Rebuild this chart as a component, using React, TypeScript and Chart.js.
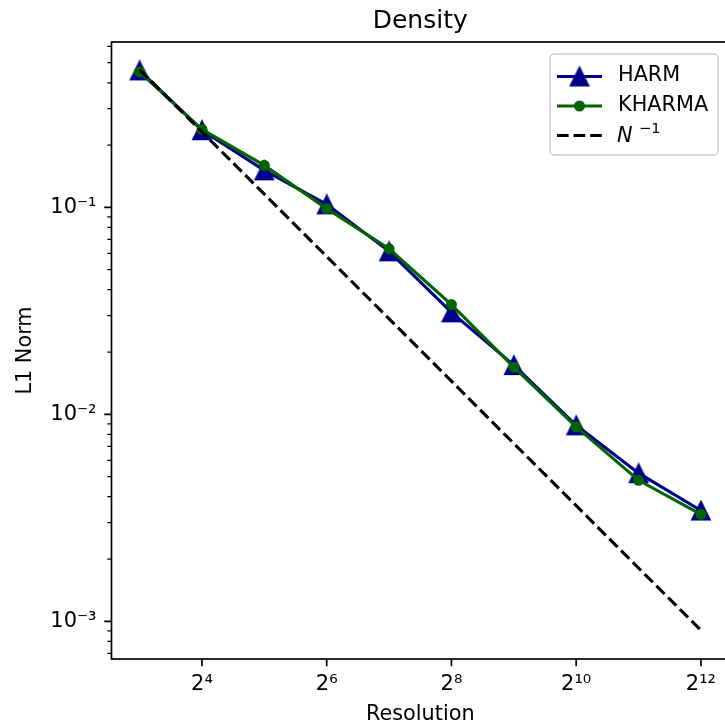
import React, { useEffect, useRef } from "react";
import { Chart, registerables } from "chart.js";

Chart.register(...registerables);

// ---------------- data ----------------
const resolutions = [8, 16, 32, 64, 128, 256, 512, 1024, 2048, 4096];
const harm = [0.459, 0.236, 0.151, 0.1034, 0.0613, 0.0311, 0.0173, 0.00885, 0.0052, 0.00343];
const kharma = [0.452, 0.238, 0.1596, 0.0986, 0.0631, 0.0339, 0.0169, 0.0087, 0.0048, 0.00329];
const nInverse = [0.463, 0.2315, 0.1158, 0.0579, 0.02894, 0.01447, 0.00723, 0.00362, 0.00181, 0.000905];

const xTickValues = [16, 64, 256, 1024, 4096];
const xTickLabels = ["2⁴", "2⁶", "2⁸", "2¹⁰", "2¹²"];
const yTickValues = [0.001, 0.01, 0.1];
const yTickLabels = ["10⁻³", "10⁻²", "10⁻¹"];
const yMinorValues = [
  0.0007, 0.0008, 0.0009,
  0.002, 0.003, 0.004, 0.005, 0.006, 0.007, 0.008, 0.009,
  0.02, 0.03, 0.04, 0.05, 0.06, 0.07, 0.08, 0.09,
  0.2, 0.3, 0.4, 0.5, 0.6,
];
const xLimits = [5.856, 5595];
const yLimits = [0.0006577, 0.6295];

const titleText = "Density";
const xTitle = "Resolution";
const yTitle = "L1 Norm";
const seriesNames = ["HARM", "KHARMA"];

// ---------------- styles ----------------
const FONT = '"DejaVu Sans"';
const HARM_COLOR = "#00008b";
const KHARMA_COLOR = "#006400";
const LW = 3.1;
const DASH = [11.6, 5];

function makeTriangle(color: string): HTMLCanvasElement {
  const c = document.createElement("canvas");
  c.width = 22;
  c.height = 22;
  const g = c.getContext("2d")!;
  g.fillStyle = color;
  g.strokeStyle = color;
  g.lineWidth = 1.5;
  g.lineJoin = "miter";
  g.beginPath();
  g.moveTo(11, 1.8);
  g.lineTo(1.8, 20.2);
  g.lineTo(20.2, 20.2);
  g.closePath();
  g.fill();
  g.stroke();
  return c;
}

export default function App() {
  const ref = useRef<HTMLCanvasElement | null>(null);

  useEffect(() => {
    if (!ref.current) return;
    document.body.style.margin = "0";
    const tri = makeTriangle(HARM_COLOR);

    const framePlugin = {
      id: "frameTicks",
      afterDatasetsDraw(chart: any) {
        const { ctx, chartArea: a, scales } = chart;
        ctx.save();
        ctx.strokeStyle = "#000";
        ctx.lineWidth = 1.67;
        ctx.strokeRect(a.left, a.top, a.right - a.left, a.bottom - a.top);
        ctx.beginPath();
        yTickValues.forEach((v) => {
          const p = scales.y.getPixelForValue(v);
          ctx.moveTo(a.left, p);
          ctx.lineTo(a.left - 7.3, p);
        });
        xTickValues.forEach((v) => {
          const p = scales.x.getPixelForValue(v);
          ctx.moveTo(p, a.bottom);
          ctx.lineTo(p, a.bottom + 7.3);
        });
        ctx.stroke();
        ctx.lineWidth = 1.25;
        ctx.beginPath();
        yMinorValues.forEach((v) => {
          const p = scales.y.getPixelForValue(v);
          ctx.moveTo(a.left, p);
          ctx.lineTo(a.left - 4.2, p);
        });
        ctx.stroke();
        ctx.restore();
      },
      afterDraw(chart: any) {
        const { ctx, chartArea: a } = chart;
        ctx.save();
        ctx.fillStyle = "#000";
        ctx.font = `25px ${FONT}`;
        ctx.textAlign = "center";
        ctx.textBaseline = "alphabetic";
        ctx.fillText(titleText, (a.left + a.right) / 2, 28.3);

        const bx = 550, by = 54, bw = 168, bh = 101;
        ctx.beginPath();
        (ctx as any).roundRect(bx, by, bw, bh, 4);
        ctx.fillStyle = "rgba(255,255,255,0.8)";
        ctx.fill();
        ctx.strokeStyle = "#cccccc";
        ctx.lineWidth = 1.5;
        ctx.stroke();

        const hx0 = 557, hx1 = 602, hxm = 579.5;
        const rows = [76.5, 106, 135.5];
        ctx.setLineDash([]);
        ctx.lineWidth = LW;
        ctx.strokeStyle = HARM_COLOR;
        ctx.beginPath();
        ctx.moveTo(hx0, rows[0]);
        ctx.lineTo(hx1, rows[0]);
        ctx.stroke();
        ctx.drawImage(tri, hxm - 11, rows[0] - 11);
        ctx.strokeStyle = KHARMA_COLOR;
        ctx.beginPath();
        ctx.moveTo(hx0, rows[1]);
        ctx.lineTo(hx1, rows[1]);
        ctx.stroke();
        ctx.fillStyle = KHARMA_COLOR;
        ctx.beginPath();
        ctx.arc(hxm, rows[1], 5.5, 0, Math.PI * 2);
        ctx.fill();
        ctx.strokeStyle = "#000";
        ctx.lineCap = "butt";
        ctx.setLineDash(DASH);
        ctx.beginPath();
        ctx.moveTo(hx0, rows[2]);
        ctx.lineTo(hx1, rows[2]);
        ctx.stroke();
        ctx.setLineDash([]);

        ctx.fillStyle = "#000";
        ctx.textAlign = "left";
        ctx.font = `20.8px ${FONT}`;
        ctx.fillText(seriesNames[0], 618, 80.5);
        ctx.fillText(seriesNames[1], 618, 110.5);
        ctx.font = `italic 20.8px ${FONT}`;
        ctx.fillText("N", 617, 142);
        ctx.font = `14.6px ${FONT}`;
        ctx.fillText("−1", 639, 132.5);
        ctx.restore();
      },
    };

    const chart = new Chart(ref.current, {
      type: "line",
      data: {
        datasets: [
          {
            label: seriesNames[0],
            data: resolutions.map((x, i) => ({ x, y: harm[i] })),
            borderColor: HARM_COLOR,
            backgroundColor: HARM_COLOR,
            borderWidth: LW,
            pointStyle: tri as any,
            pointRadius: 10,
            tension: 0,
            fill: false,
            order: 3,
          },
          {
            label: seriesNames[1],
            data: resolutions.map((x, i) => ({ x, y: kharma[i] })),
            borderColor: KHARMA_COLOR,
            backgroundColor: KHARMA_COLOR,
            pointBackgroundColor: KHARMA_COLOR,
            pointBorderColor: KHARMA_COLOR,
            borderWidth: LW,
            pointStyle: "circle",
            pointRadius: 5.5,
            pointBorderWidth: 0,
            tension: 0,
            fill: false,
            order: 2,
          },
          {
            label: "N^-1",
            data: resolutions.map((x, i) => ({ x, y: nInverse[i] })),
            borderColor: "#000",
            borderWidth: LW,
            borderDash: DASH,
            borderCapStyle: "butt",
            pointRadius: 0,
            tension: 0,
            fill: false,
            order: 1,
          },
        ],
      },
      options: {
        responsive: false,
        animation: false,
        devicePixelRatio: 1,
        layout: { padding: { top: 42, right: 31, bottom: 0, left: 0 } },
        plugins: {
          legend: { display: false },
          title: { display: false },
          tooltip: { enabled: false },
        },
        scales: {
          x: {
            type: "logarithmic",
            min: xLimits[0],
            max: xLimits[1],
            grid: { display: false, drawTicks: false },
            border: { display: false },
            afterBuildTicks: (s: any) => {
              s.ticks = xTickValues.map((v) => ({ value: v }));
            },
            afterFit: (s: any) => {
              s.height = 68;
            },
            ticks: {
              autoSkip: false,
              maxRotation: 0,
              padding: 13,
              color: "#000",
              font: { family: "DejaVu Sans", size: 21 },
              callback: (v: any) => {
                const i = xTickValues.indexOf(Number(v));
                return i >= 0 ? xTickLabels[i] : "";
              },
            },
            title: {
              display: true,
              text: xTitle,
              color: "#000",
              font: { family: "DejaVu Sans", size: 20.8 },
              padding: { top: 0, bottom: 0 },
            },
          },
          y: {
            type: "logarithmic",
            min: yLimits[0],
            max: yLimits[1],
            grid: { display: false, drawTicks: false },
            border: { display: false },
            afterBuildTicks: (s: any) => {
              s.ticks = yTickValues.map((v) => ({ value: v }));
            },
            afterFit: (s: any) => {
              s.width = 111.5;
            },
            ticks: {
              autoSkip: false,
              padding: 15,
              color: "#000",
              font: { family: "DejaVu Sans", size: 21 },
              callback: (v: any) => {
                const i = yTickValues.findIndex((t) => Math.abs(t - Number(v)) / t < 1e-6);
                return i >= 0 ? yTickLabels[i] : "";
              },
            },
            title: {
              display: true,
              text: yTitle,
              color: "#000",
              font: { family: "DejaVu Sans", size: 20.8 },
              padding: { top: 13, bottom: 0 },
            },
          },
        },
      } as any,
      plugins: [framePlugin],
    });

    return () => chart.destroy();
  }, []);

  return (
    <div
      style={{
        position: "fixed",
        left: 0,
        top: 0,
        width: 725,
        height: 727,
        overflow: "hidden",
        background: "#fff",
      }}
    >
      <canvas ref={ref} width={760} height={727} style={{ display: "block", width: 760, height: 727 }} />
    </div>
  );
}
